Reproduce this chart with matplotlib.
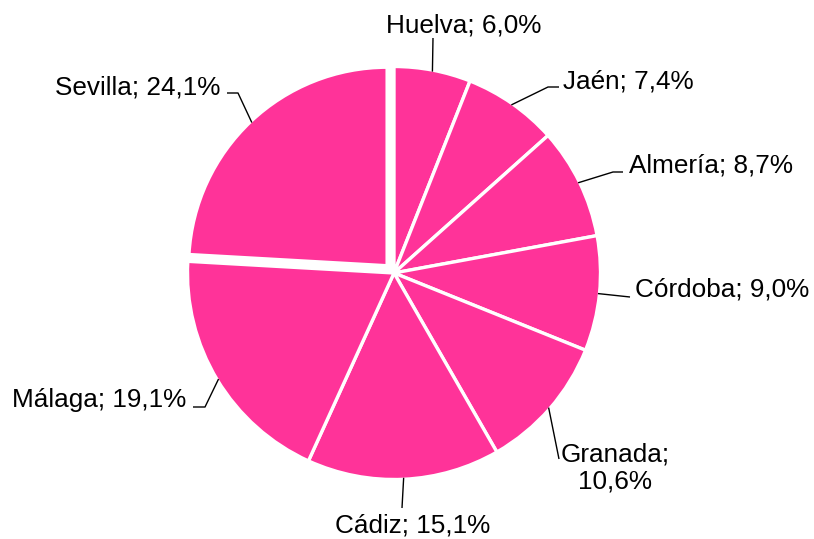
import numpy as np
import matplotlib
matplotlib.use("Agg")
import matplotlib.pyplot as plt

plt.rcParams['font.family'] = ['Liberation Sans', 'DejaVu Sans']

# data
provinces = ["Huelva", "Jaén", "Almería", "Córdoba", "Granada", "Cádiz", "Málaga", "Sevilla"]
shares = [6.0, 7.4, 8.7, 9.0, 10.6, 15.1, 19.1, 24.1]

W, H = 814, 539

def Y(y):
    # pixel row (from top) -> data y
    return H - y

# label layout in pixels (y from top): elbow point, line end, text anchor, alignment
elbows = [(433, 38), (548, 87), (613, 172), (630, 297), (559, 459), (402, 508), (205, 407), (238, 93)]
line_ends = [(433, 38), (559, 87), (623, 172), (630, 297), (559, 459), (402, 508), (193, 407), (227, 93)]
text_pos = [(464, 32), (563, 88), (629, 173), (635, 297), (615, 489), (413, 533), (186, 407), (220, 94)]
text_ha = ["center", "left", "left", "left", "center", "center", "right", "right"]

fig = plt.figure(figsize=(W / 100, H / 100), dpi=100)
ax = fig.add_axes([0, 0, 1, 1])

explode = [0, 0, 0, 0, 0, 0, 0, 10]
wedges, _ = ax.pie(shares, colors=["#ff3399"] * len(shares), startangle=90,
                   counterclock=False, center=(394, Y(273)), radius=206.5,
                   explode=explode, normalize=True,
                   wedgeprops=dict(edgecolor="white", linewidth=2.4))
# the pulled-out slice is drawn a little smaller
wedges[-1].set_radius(198.5)

for i, w in enumerate(wedges):
    ang = np.deg2rad((w.theta1 + w.theta2) / 2)
    cx, cy = w.center
    r = w.r - 1.5
    px = cx + r * np.cos(ang)
    py = cy + r * np.sin(ang)
    ex, ey = elbows[i]
    lx, ly = line_ends[i]
    ax.plot([px, ex, lx], [py, Y(ey), Y(ly)], color="black", lw=1.0,
            solid_capstyle="butt", zorder=3)
    if provinces[i] == "Granada":
        label = f"{provinces[i]};\n{shares[i]:.1f}%".replace(".", ",")
    else:
        label = f"{provinces[i]}; {shares[i]:.1f}%".replace(".", ",")
    tx, ty = text_pos[i]
    ax.text(tx, Y(ty), label, ha=text_ha[i], va="baseline", fontsize=18.8,
            multialignment="center", linespacing=1.2, color="black")

ax.set_xlim(0, W)
ax.set_ylim(0, H)
ax.axis("off")

fig.savefig("out.png", dpi=100)
